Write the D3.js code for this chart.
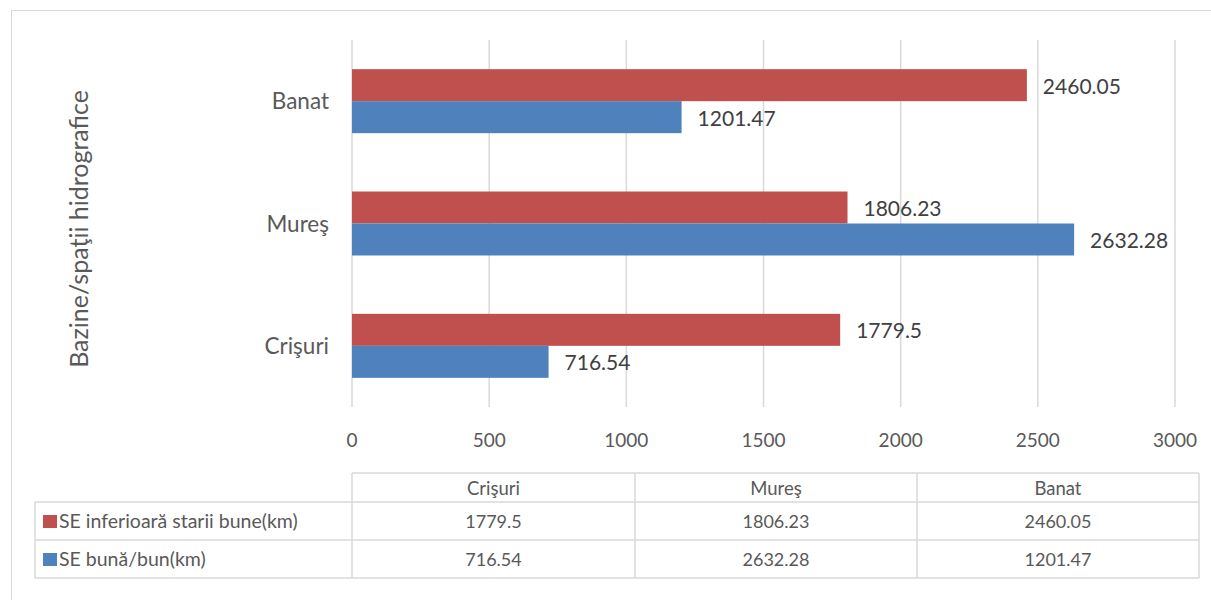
<!DOCTYPE html>
<html><head><meta charset="utf-8">
<script src="https://cdn.jsdelivr.net/npm/d3@7"></script>
<style>body{margin:0;background:#fff}svg{display:block}text{font-family:Lato,"Open Sans",sans-serif}</style>
</head><body>
<script>
const categories = ["Crişuri", "Mureş", "Banat"];
const seriesNames = ["SE inferioară starii bune(km)", "SE bună/bun(km)"];
const seInferioara = [1779.5, 1806.23, 2460.05];
const seBuna = [716.54, 2632.28, 1201.47];
const xTicks = [0, 500, 1000, 1500, 2000, 2500, 3000];
const colors = ["#C0504D", "#4F81BD"];
const yTitle = "Bazine/spaţii hidrografice";

const W = 1211, H = 600;
const svg = d3.select("body").append("svg").attr("width", W).attr("height", H);
svg.append("rect").attr("x", 11.5).attr("y", 10.5).attr("width", 1400).attr("height", 800)
  .attr("fill", "#fff").attr("stroke", "#D9D9D9").attr("stroke-width", 1);

const x = d3.scaleLinear().domain([0, 3000]).range([352, 1175]);
const y = d3.scaleBand().domain(categories.slice().reverse()).range([40, 407]).paddingInner(0).paddingOuter(0);
const inner = d3.scaleBand().domain([0, 1]).range([0, 64]);
const series = [seInferioara, seBuna];

// gridlines
svg.append("g").selectAll("line").data(xTicks).join("line")
  .attr("x1", d => x(d)).attr("x2", d => x(d)).attr("y1", 40).attr("y2", 407)
  .attr("stroke", "#D9D9D9").attr("stroke-width", 1.5);

// x axis labels
svg.append("g").selectAll("text").data(xTicks).join("text")
  .attr("x", d => x(d)).attr("y", 447).attr("text-anchor", "middle")
  .attr("font-size", 19).attr("fill", "#595959").text(d => d);

// bars
series.forEach((vals, si) => {
  const g = svg.append("g");
  categories.forEach((c, ci) => {
    const y0 = y(c) + (y.bandwidth() - 64) / 2 + inner(si);
    g.append("rect").attr("x", x(0)).attr("y", y0)
      .attr("width", x(vals[ci]) - x(0)).attr("height", inner.bandwidth()).attr("fill", colors[si]);
    g.append("text").attr("x", x(vals[ci]) + 16).attr("y", y0 + inner.bandwidth() / 2 + 8.5)
      .attr("font-size", 21).attr("fill", "#404040").text(vals[ci]);
  });
});

// category labels
svg.append("g").selectAll("text").data(categories).join("text")
  .attr("x", 329).attr("y", d => y(d) + y.bandwidth() / 2 + 8).attr("text-anchor", "end")
  .attr("font-size", 22.5).attr("fill", "#595959").text(d => d);

// y title
svg.append("text").attr("transform", "translate(88,229) rotate(-90)").attr("text-anchor", "middle")
  .attr("font-size", 25).attr("fill", "#595959").text(yTitle);

// data table
const cols = [352, 635, 917, 1199];
const rows = [473, 502, 540, 578];
const tg = svg.append("g").attr("stroke", "#D9D9D9").attr("stroke-width", 1.5);
tg.append("line").attr("x1", 352).attr("x2", 1199).attr("y1", rows[0]).attr("y2", rows[0]);
[1, 2, 3].forEach(i => tg.append("line").attr("x1", 35).attr("x2", 1199).attr("y1", rows[i]).attr("y2", rows[i]));
cols.forEach(cx => tg.append("line").attr("x1", cx).attr("x2", cx).attr("y1", rows[0]).attr("y2", rows[3]));
tg.append("line").attr("x1", 35).attr("x2", 35).attr("y1", rows[1]).attr("y2", rows[3]);

categories.forEach((c, ci) => {
  const cx = (cols[ci] + cols[ci + 1]) / 2;
  svg.append("text").attr("x", cx).attr("y", rows[0] + 22).attr("text-anchor", "middle")
    .attr("font-size", 18.5).attr("fill", "#595959").text(c);
  series.forEach((vals, si) => {
    svg.append("text").attr("x", cx).attr("y", rows[si + 1] + 26).attr("text-anchor", "middle")
      .attr("font-size", 18).attr("fill", "#595959").text(vals[ci]);
  });
});
seriesNames.forEach((n, si) => {
  svg.append("rect").attr("x", 43).attr("y", rows[si + 1] + 13).attr("width", 14).attr("height", 13).attr("fill", colors[si]);
  svg.append("text").attr("x", 59).attr("y", rows[si + 1] + 26).attr("font-size", 19.5).attr("fill", "#595959").text(n);
});
</script>
</body></html>
